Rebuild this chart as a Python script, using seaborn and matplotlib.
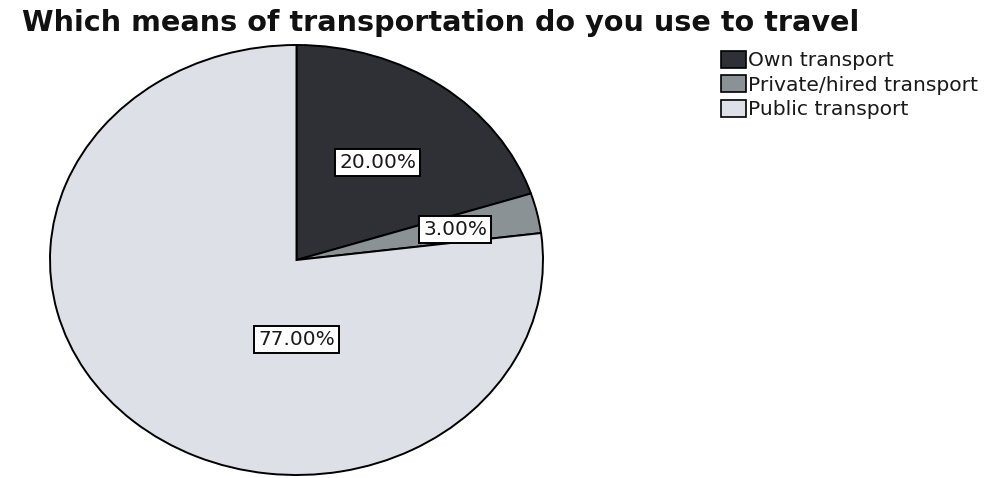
import matplotlib
matplotlib.use("Agg")
import matplotlib.pyplot as plt
from matplotlib.patches import Patch
import numpy as np
import seaborn as sns

# Survey answers: share of respondents per means of transport
categories = ["Own transport", "Private/hired transport", "Public transport"]
shares = [20.0, 3.0, 77.0]
share_labels = ["20.00%", "3.00%", "77.00%"]
title = "Which means of transportation do you use to travel"

sns.set_theme(style="white")
plt.rcParams["font.family"] = ["DejaVu Sans"]

palette = sns.color_palette(["#2e3036", "#8b9296", "#dde0e7"])

fig = plt.figure(figsize=(9.89, 4.78), dpi=100)
fig.patch.set_facecolor("white")

W, H = 989, 478
ax = fig.add_axes([50 / W, 3 / H, 493 / W, 430 / H])
wedges, _ = ax.pie(
    shares,
    colors=palette,
    startangle=90,
    counterclock=False,
    radius=1.0,
    wedgeprops=dict(edgecolor="black", linewidth=1.4),
)
ax.set_aspect("auto")
ax.set_xlim(-1, 1)
ax.set_ylim(-1, 1)
ax.axis("off")

# Label placement: (angle in degrees or None for the wedge middle, radius)
label_polar = [(None, 0.56), (None, 0.66), (-90.0, 0.37)]
for wedge, text, (ang, r) in zip(wedges, share_labels, label_polar):
    if ang is None:
        ang = 0.5 * (wedge.theta1 + wedge.theta2)
    t = np.deg2rad(ang)
    ax.text(
        r * np.cos(t), r * np.sin(t), text,
        ha="center", va="center", fontsize=14.5, color="#1a1a1a",
        bbox=dict(boxstyle="square,pad=0.2", fc="white", ec="black", lw=1.4),
    )

fig.text(22 / W, 1 - 31 / H, title, ha="left", va="baseline",
         fontsize=20.6, fontweight="bold", color="#111111")

handles = [Patch(facecolor=c, edgecolor="black", linewidth=1.2) for c in palette]
fig.legend(
    handles, categories,
    loc="upper left", bbox_to_anchor=(721 / W, 1 - 51 / H),
    frameon=False, fontsize=14.6, labelcolor="#1a1a1a",
    handlelength=1.25, handleheight=0.9, handletextpad=0.1,
    labelspacing=0.25, borderpad=0, borderaxespad=0,
)

fig.savefig("out.png", dpi=100, facecolor="white")
